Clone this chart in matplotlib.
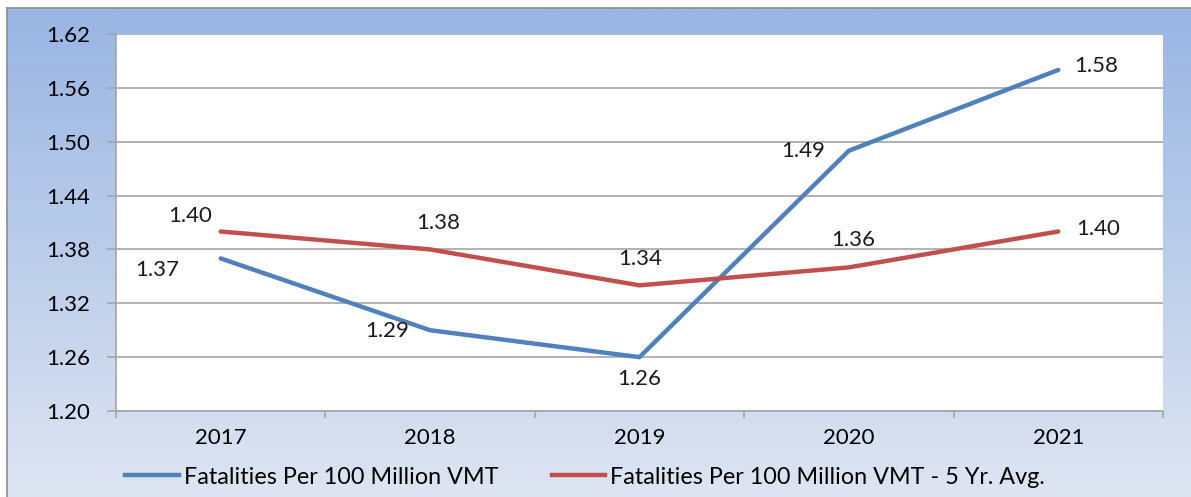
import numpy as np
import matplotlib
matplotlib.use("Agg")
import matplotlib.pyplot as plt
from matplotlib.lines import Line2D

# data
years = ["2017", "2018", "2019", "2020", "2021"]
rate = [1.37, 1.29, 1.26, 1.49, 1.58]
rate_5yr = [1.40, 1.38, 1.34, 1.36, 1.40]
yticks = [1.20, 1.26, 1.32, 1.38, 1.44, 1.50, 1.56, 1.62]

# label offsets in pixels (dx, dy)
rate_offsets = [(-63, -12), (-43, -1), (0, -22), (-46, 0), (38, 4)]
avg_offsets = [(-31, 15), (8, 26), (1, 26), (4, 27), (40, 2)]

BLUE = "#4F81BD"
RED = "#C0504D"
GRID = "#a6a6a6"
FS = 16

plt.rcParams["font.family"] = ["Lato", "DejaVu Sans"]

W, H = 1191, 497
fig = plt.figure(figsize=(W / 100, H / 100), dpi=100)
fig.patch.set_facecolor("white")

# gradient panel behind the chart
bg = fig.add_axes([7 / W, 0, 1 - 7 / W, (H - 8) / H])
top = np.array([152, 181, 227]) / 255
bot = np.array([222, 229, 242]) / 255
t = np.linspace(0, 1, 256)[:, None]
grad = top[None, :] * (1 - t) + bot[None, :] * t
bg.imshow(grad[:, None, :], aspect="auto", extent=[0, 1, 0, 1])
bg.set_xlim(0, 1)
bg.set_ylim(0, 1)
bg.set_xticks([])
bg.set_yticks([])
for s in ["right", "bottom"]:
    bg.spines[s].set_visible(False)
for s in ["left", "top"]:
    bg.spines[s].set_color("#8c8c8c")
    bg.spines[s].set_linewidth(1.2)

ax = fig.add_axes([116 / W, (H - 411) / H, (1163 - 116) / W, (411 - 34) / H])
ax.set_facecolor("white")
x = np.arange(len(years))

ax.plot(x, rate, color=BLUE, lw=3.2, solid_capstyle="round", zorder=3)
ax.plot(x, rate_5yr, color=RED, lw=3.2, solid_capstyle="round", zorder=3)

for xi, v, (dx, dy) in zip(x, rate, rate_offsets):
    ax.annotate(f"{v:.2f}", (xi, v), xytext=(dx, dy), textcoords="offset pixels",
                ha="center", va="center", fontsize=FS, color="#1a1a1a")
for xi, v, (dx, dy) in zip(x, rate_5yr, avg_offsets):
    ax.annotate(f"{v:.2f}", (xi, v), xytext=(dx, dy), textcoords="offset pixels",
                ha="center", va="center", fontsize=FS, color="#1a1a1a")

ax.set_xlim(-0.5, len(years) - 0.5)
ax.set_ylim(yticks[0], yticks[-1])
ax.set_yticks(yticks)
ax.set_yticklabels([f"{v:.2f}" for v in yticks])
ax.set_xticks(x)
ax.set_xticklabels(years)
ax.set_xticks(np.arange(-0.5, len(years)), minor=True)
ax.tick_params(axis="x", which="major", length=0, pad=12, labelsize=FS)
ax.tick_params(axis="x", which="minor", length=5, color=GRID, width=1.2)
ax.tick_params(axis="y", length=6.5, color=GRID, width=1.2, pad=12, labelsize=FS)
ax.grid(axis="y", color=GRID, lw=1.2)
ax.set_axisbelow(True)
for s in ["top", "right"]:
    ax.spines[s].set_visible(False)
for s in ["left", "bottom"]:
    ax.spines[s].set_color(GRID)
    ax.spines[s].set_linewidth(1.2)

handles = [Line2D([], [], color=BLUE, lw=3.2),
           Line2D([], [], color=RED, lw=3.2)]
fig.legend(handles, ["Fatalities Per 100 Million VMT",
                     "Fatalities Per 100 Million VMT - 5 Yr. Avg."],
           loc="center", bbox_to_anchor=(585 / W, (H - 477) / H), ncol=2,
           frameon=False, fontsize=16.8, handlelength=2.3, handletextpad=0.2,
           columnspacing=2.3)

fig.savefig("out.png", dpi=100)
